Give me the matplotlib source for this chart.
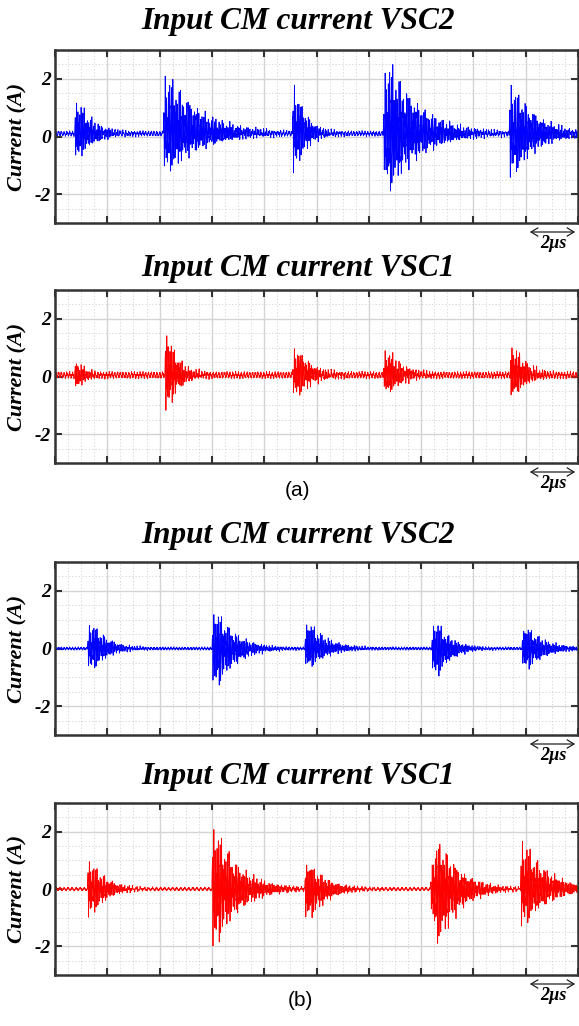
import numpy as np
import matplotlib
matplotlib.use("Agg")
import matplotlib.pyplot as plt
from matplotlib.ticker import MultipleLocator
from matplotlib.patches import FancyArrowPatch

plt.rcParams['axes.unicode_minus'] = False

# time axis in microseconds (10 divisions of 2 us)
t = np.linspace(0, 20, 16001)

# burst data: onset (us), positive peak (A), negative peak (A),
# decay (us), rise (us)
a2_onset = [0.75, 4.14, 9.08, 12.55, 17.37]
a2_pos = [1.1, 2.0, 1.65, 2.5, 1.6]
a2_neg = [0.85, 1.3, 1.3, 2.0, 1.45]
a2_tau = [0.6, 1.3, 0.45, 1.2, 0.9]
a2_rise = [0.03, 0.03, 0.02, 0.05, 0.02]

a1_onset = [0.75, 4.2, 9.08, 12.55, 17.4]
a1_pos = [0.45, 1.5, 0.85, 0.8, 1.0]
a1_neg = [0.45, 1.25, 0.7, 0.6, 0.75]
a1_tau = [0.35, 0.45, 0.6, 0.6, 0.55]
a1_rise = [0.03, 0.02, 0.05, 0.05, 0.03]

b2_onset = [1.24, 6.0, 9.55, 14.4, 17.85]
b2_pos = [0.8, 1.2, 0.85, 0.85, 0.7]
b2_neg = [0.7, 1.3, 0.65, 0.95, 0.7]
b2_tau = [0.6, 0.75, 0.7, 0.55, 0.7]
b2_rise = [0.05, 0.04, 0.04, 0.06, 0.05]

b1_onset = [1.24, 6.0, 9.55, 14.35, 17.8]
b1_pos = [1.0, 2.1, 0.9, 1.65, 1.65]
b1_neg = [1.0, 2.0, 1.1, 1.9, 1.3]
b1_tau = [0.6, 0.9, 0.7, 0.8, 0.9]
b1_rise = [0.02, 0.02, 0.03, 0.15, 0.02]

# baseline offset, ripple level and ripple frequency (MHz) per panel
base = [0.1, 0.05, 0.0, 0.0]
ripple = [0.1, 0.13, 0.06, 0.07]
ripple_f = [9.3, 9.3, 9.3, 6.5]

titles = ["Input CM current VSC2", "Input CM current VSC1",
          "Input CM current VSC2", "Input CM current VSC1"]
colors = ["#0000ff", "#ff0000", "#0000ff", "#ff0000"]
yticks = [-2, 0, 2]


def trace(onset, pos, neg, tau, rise, b, r, f):
    y = b + r * (0.55 * np.sin(2 * np.pi * f * t) + 0.3 * np.sin(2 * np.pi * 27.1 * t + 0.4)
                 + 0.15 * np.sin(2 * np.pi * 51.7 * t + 1.3))
    for t0, p, n, tc, tr in zip(onset, pos, neg, tau, rise):
        dt = t - t0
        d = np.clip(dt, 0, None)
        env = np.where(dt >= 0, (1 - np.exp(-d / tr)) * np.exp(-d / tc), 0)
        env = env / env.max()
        c = np.sin(2 * np.pi * 17.0 * dt) * (0.75 + 0.25 * np.cos(2 * np.pi * 3.1 * dt)) \
            + 0.35 * np.sin(2 * np.pi * 41.3 * dt + 0.7)
        s = env * c
        s = s / np.abs(s).max()
        y = y + np.where(s > 0, s * p, s * n)
    return y


series = [
    trace(a2_onset, a2_pos, a2_neg, a2_tau, a2_rise, base[0], ripple[0], ripple_f[0]),
    trace(a1_onset, a1_pos, a1_neg, a1_tau, a1_rise, base[1], ripple[1], ripple_f[1]),
    trace(b2_onset, b2_pos, b2_neg, b2_tau, b2_rise, base[2], ripple[2], ripple_f[2]),
    trace(b1_onset, b1_pos, b1_neg, b1_tau, b1_rise, base[3], ripple[3], ripple_f[3]),
]

W, H = 579, 1026
fig = plt.figure(figsize=(W / 100, H / 100), dpi=100)

# panel top/bottom in pixels
boxes = [(50, 223), (290, 463), (562, 735), (803, 975)]
title_base = [29, 276, 543, 784]
left, right = 55, 578

serif = dict(family="Liberation Serif", weight="bold", style="italic")

for i, (top, bot) in enumerate(boxes):
    ax = fig.add_axes([left / W, 1 - bot / H, (right - left) / W, (bot - top) / H])
    ax.plot(t, series[i], color=colors[i], lw=0.6)
    ax.set_xlim(0, 20)
    ax.set_ylim(-3, 3)
    ax.xaxis.set_major_locator(MultipleLocator(2))
    ax.xaxis.set_minor_locator(MultipleLocator(0.5))
    ax.set_yticks(yticks)
    ax.yaxis.set_minor_locator(MultipleLocator(0.5))
    ax.set_xticklabels([])
    ax.set_yticklabels([str(v) for v in yticks], fontsize=14, **serif)
    ax.grid(which="major", color="#d4d4d4", lw=1.0)
    ax.grid(which="minor", color="#cfcfcf", lw=0.6, ls=(0, (1.5, 2.5)))
    ax.set_axisbelow(True)
    ax.tick_params(which="major", direction="in", length=5, width=1.5, color="#333333",
                   top=True, right=True, pad=3)
    ax.tick_params(which="minor", length=0)
    for sp in ax.spines.values():
        sp.set_color("#333333")
        sp.set_linewidth(1.8)
    ax.set_ylabel("Current (A)", fontsize=16, **serif)
    ax.yaxis.set_label_coords(-28 / (right - left), 0.5)

    fig.text(298 / W, 1 - title_base[i] / H, titles[i], ha="center", va="baseline",
             fontsize=22.5, **serif)

    # 2 us scale arrow below each panel
    ya = 1 - (bot + 9) / H
    fig.add_artist(FancyArrowPatch(
        (527 / W, ya), (578 / W, ya), transform=fig.transFigure,
        arrowstyle="<->,head_length=5,head_width=3", lw=0.9, color="#222222",
        mutation_scale=1))
    fig.text(553 / W, 1 - (bot + 21) / H, "2\u00b5s", ha="center", va="center",
             fontsize=13, **serif)

fig.text(298 / W, 1 - 490 / H, "(a)", ha="center", va="center", fontsize=15,
         family="Liberation Sans")
fig.text(300 / W, 1 - 1000 / H, "(b)", ha="center", va="center", fontsize=15,
         family="Liberation Sans")

fig.savefig("out.png", dpi=100)
